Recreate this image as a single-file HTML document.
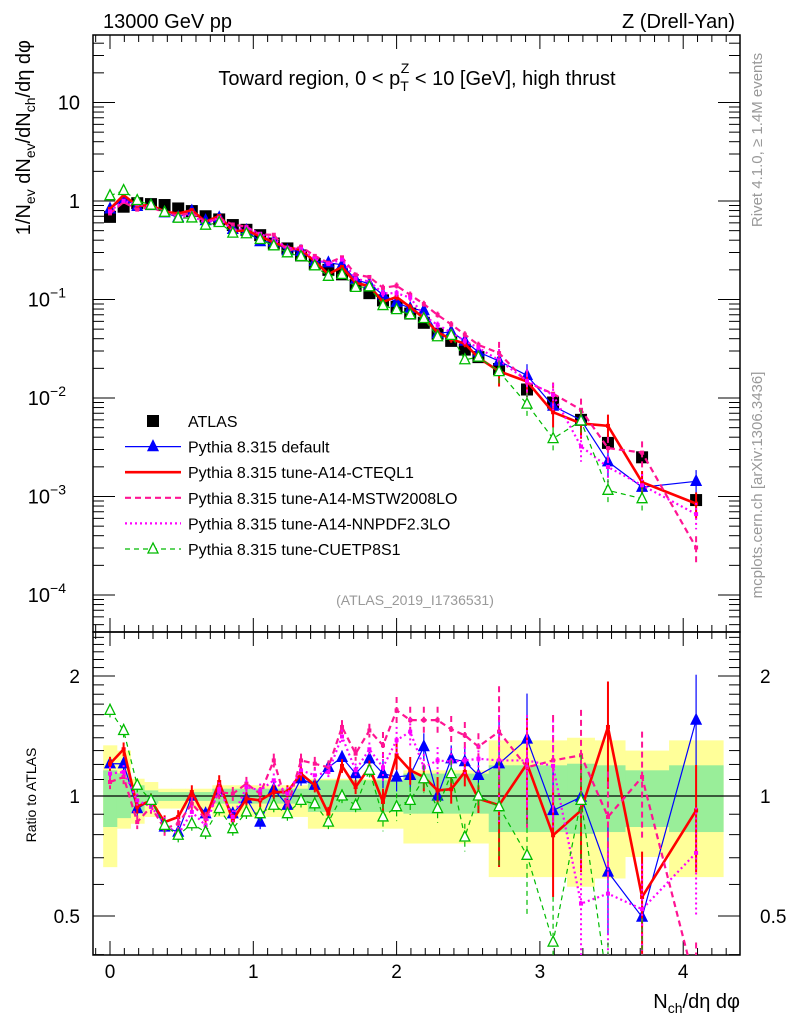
<!DOCTYPE html>
<html><head><meta charset="utf-8"><style>
html,body{margin:0;padding:0;background:#fff;}
svg{display:block;font-family:"Liberation Sans",sans-serif;}
</style></head><body>
<svg id="chart" width="786" height="1024" viewBox="0 0 786 1024" xmlns="http://www.w3.org/2000/svg">
<defs>
<clipPath id="clipM"><rect x="93" y="35" width="647" height="597"/></clipPath>
<clipPath id="clipR"><rect x="93" y="632" width="647" height="323"/></clipPath>
</defs>
<g id="bands" clip-path="url(#clipR)"></g>
<g id="axes"></g>
<g id="mainMarks" clip-path="url(#clipM)"></g>
<g id="ratioMarks" clip-path="url(#clipR)"></g>
<g id="texts">
<text x="103" y="28" font-size="20">13000 GeV pp</text>
<text x="735" y="28" font-size="20" text-anchor="end">Z (Drell-Yan)</text>
<text x="417" y="85" font-size="20" text-anchor="middle">Toward region, 0 &lt; p<tspan font-size="14" dy="6">T</tspan><tspan font-size="14" dx="-8" dy="-18">Z</tspan><tspan dy="12"> &lt; 10 [GeV], high thrust</tspan></text>
<text x="415" y="605" font-size="14" fill="#999" text-anchor="middle">(ATLAS_2019_I1736531)</text>
<text transform="translate(762,140) rotate(-90)" font-size="15" fill="#999" text-anchor="middle">Rivet 4.1.0, ≥ 1.4M events</text>
<text transform="translate(762,485) rotate(-90)" font-size="15" fill="#999" text-anchor="middle">mcplots.cern.ch [arXiv:1306.3436]</text>
<text transform="translate(30,40) rotate(-90)" font-size="20" text-anchor="end">1/N<tspan font-size="14" dy="5">ev</tspan><tspan dy="-5"> dN</tspan><tspan font-size="14" dy="5">ev</tspan><tspan dy="-5">/dN</tspan><tspan font-size="14" dy="5">ch</tspan><tspan dy="-5">/dη dφ</tspan></text>
<text transform="translate(36,795) rotate(-90)" font-size="14" text-anchor="middle">Ratio to ATLAS</text>
<text x="740" y="1008" font-size="20" text-anchor="end">N<tspan font-size="14" dy="5">ch</tspan><tspan dy="-5">/dη dφ</tspan></text>
</g>
<g id="legend"></g>
</svg>
<script>
const xs=[0,0.095,0.19,0.286,0.381,0.476,0.571,0.667,0.762,0.857,0.952,1.048,1.143,1.238,1.333,1.429,1.524,1.619,1.714,1.81,1.905,2.0,2.095,2.19,2.286,2.381,2.476,2.571,2.715,2.91,3.092,3.287,3.475,3.713,4.09];
const atlas=[0.69,0.875,0.95,0.93,0.91,0.84,0.79,0.70,0.65,0.57,0.51,0.45,0.37,0.33,0.28,0.23,0.20,0.18,0.14,0.116,0.098,0.084,0.072,0.058,0.045,0.038,0.031,0.026,0.0197,0.0122,0.0090,0.0060,0.0035,0.0025,0.00092];
const rDefault=[1.205,1.205,0.93,0.975,0.836,0.812,1.0,0.903,1.04,0.903,0.985,0.86,1.04,0.948,1.105,1.064,1.18,1.25,1.138,1.24,1.138,1.116,1.127,1.33,1.0,1.24,1.22,1.127,1.205,1.39,0.92,0.994,0.645,0.497,1.55];
const rCTEQ=[1.205,1.31,0.94,0.975,0.86,0.886,1.023,0.877,1.084,0.869,0.985,0.975,1.023,1.023,1.138,1.064,0.903,1.19,1.053,1.18,0.966,1.265,1.16,1.116,1.033,1.04,1.149,0.985,0.948,1.205,0.797,0.92,1.49,0.558,0.92];
const rMSTW=[1.084,1.116,0.86,0.94,0.828,0.852,0.956,0.877,1.023,1.013,1.074,1.013,1.228,0.94,1.228,1.205,1.18,1.49,1.277,1.46,1.34,1.64,1.55,1.55,1.55,1.47,1.42,1.33,1.45,1.18,1.228,1.265,0.886,1.116,0.33];
const rNNPDF=[1.138,1.149,0.975,0.94,0.852,0.80,0.912,0.844,1.04,0.886,1.053,1.033,1.095,1.013,1.16,1.127,1.149,1.41,1.16,1.31,1.18,1.38,1.45,1.18,1.228,1.22,1.228,1.24,1.228,1.228,1.19,0.537,0.569,0.52,0.72];
const rCUETP=[1.64,1.46,1.064,0.975,0.844,0.797,0.852,0.812,0.93,0.828,0.912,0.903,0.948,0.903,0.975,0.956,0.86,1.0,0.948,1.16,0.886,0.94,0.975,1.105,0.93,1.138,0.789,1.0,0.94,0.71,0.43,0.975,0.33,0.38,null];
const yellowHi=[1.34,1.30,1.105,1.084,1.043,1.043,1.043,1.043,1.064,1.064,1.064,1.064,1.064,1.064,1.064,1.105,1.105,1.105,1.105,1.105,1.105,1.105,1.16,1.16,1.16,1.16,1.16,1.16,1.379,1.379,1.379,1.40,1.379,1.30,1.379];
const yellowLo=[0.663,0.828,0.852,0.886,0.93,0.93,0.93,0.93,0.886,0.886,0.886,0.886,0.886,0.886,0.886,0.828,0.828,0.828,0.828,0.828,0.828,0.828,0.76,0.76,0.76,0.76,0.76,0.76,0.626,0.626,0.626,0.592,0.621,0.703,0.626];
const greenHi=[1.16,1.14,1.064,1.033,1.023,1.023,1.023,1.023,1.043,1.043,1.043,1.043,1.043,1.043,1.043,1.095,1.095,1.095,1.095,1.095,1.095,1.095,1.138,1.138,1.138,1.138,1.138,1.138,1.194,1.194,1.194,1.205,1.194,1.16,1.194];
const greenLo=[0.836,0.88,0.912,0.957,0.972,0.972,0.972,0.972,0.957,0.957,0.957,0.957,0.957,0.957,0.957,0.912,0.912,0.912,0.912,0.912,0.912,0.912,0.903,0.903,0.903,0.903,0.903,0.903,0.812,0.812,0.812,0.804,0.812,0.836,0.812];
const xTicks=[0,1,2,3,4];
const mainTicks=[10,1,0.1,0.01,0.001,0.0001];
const mainTickLabels=["10","1","10","10","10","10"];
const mainTickExp=["","","−1","−2","−3","−4"];
const ratioTicks=[2,1,0.5];
const ratioTickLabels=["2","1","0.5"];

const NS="http://www.w3.org/2000/svg";
const X0=110, XS=143.3;
const L=93,R=740,MT=35,MB=632,RB=955;
function xp(v){return X0+XS*v;}
function ym(v){return 201-98.5*Math.log10(v);}
function yr(v){return 796-120*Math.log2(v);}
function el(tag,attrs,parent){const e=document.createElementNS(NS,tag);for(const k in attrs)e.setAttribute(k,attrs[k]);parent.appendChild(e);return e;}
const axes=document.getElementById('axes');
const mainG=document.getElementById('mainMarks');
const ratG=document.getElementById('ratioMarks');
const bandG=document.getElementById('bands');
const leg=document.getElementById('legend');

function edges(i){const lo=i==0?xs[0]-(xs[1]-xs[0])/2:(xs[i-1]+xs[i])/2;const hi=i==xs.length-1?xs[i]+(xs[i]-xs[i-1])/2:(xs[i]+xs[i+1])/2;return [lo,hi];}
for(let i=0;i<xs.length;i++){
  const [a,b]=edges(i);
  const y=el('rect',{x:xp(a),y:yr(yellowHi[i]),width:xp(b)-xp(a)+0.5,height:yr(yellowLo[i])-yr(yellowHi[i]),fill:'#ffff99'},bandG);
  
  
}
for(let i=0;i<xs.length;i++){
  const [a,b]=edges(i);
  const g=el('rect',{x:xp(a),y:yr(greenHi[i]),width:xp(b)-xp(a)+0.5,height:yr(greenLo[i])-yr(greenHi[i]),fill:'#99ee99'},bandG);
  
  
}

const f1=el('rect',{x:L,y:MT,width:R-L,height:MB-MT,fill:'none',stroke:'#000','stroke-width':1.5},axes);


const f2=el('rect',{x:L,y:MB,width:R-L,height:RB-MB,fill:'none',stroke:'#000','stroke-width':1.5},axes);


const one=el('line',{x1:L,x2:R,y1:yr(1),y2:yr(1),stroke:'#000','stroke-width':1.2},axes);



for(let v=-0.1;v<=4.4;v+=0.1){
  const vv=Math.round(v*10)/10; if(xp(vv)<L||xp(vv)>R)continue;
  const major=Math.abs(vv-Math.round(vv))<1e-6; const len=major?14:7;
  [[MT,MT+len],[MB,MB-len],[MB,MB+len],[RB,RB-len]].forEach(p=>el('line',{x1:xp(vv),x2:xp(vv),y1:p[0],y2:p[1],stroke:'#000','stroke-width':1},axes));
}
xTicks.forEach(v=>{const t=el('text',{x:xp(v),y:978,'font-size':19,'text-anchor':'middle'},axes);t.textContent=String(v);

});
for(let d=-5;d<=1;d++){for(let m=1;m<10;m++){const v=m*Math.pow(10,d);const y=ym(v);if(y<MT||y>MB)continue;const len=m==1?22:11;
 el('line',{x1:L,x2:L+len,y1:y,y2:y,stroke:'#000','stroke-width':1},axes);el('line',{x1:R,x2:R-len,y1:y,y2:y,stroke:'#000','stroke-width':1},axes);}}
mainTicks.forEach((v,i)=>{const t=el('text',{x:mainTickExp[i]?66:80,y:ym(v)+7,'font-size':20,'text-anchor':'end'},axes);t.textContent=mainTickLabels[i];
 if(mainTickExp[i]){const s=el('tspan',{'font-size':14,dy:-9},t);s.textContent=mainTickExp[i];}
 
 });
for(let v=0.4;v<=2.6;v+=0.1){const vv=Math.round(v*10)/10;const y=yr(vv);if(y<MB||y>RB)continue;const major=(vv==0.5||vv==1||vv==2);const len=major?22:11;
 el('line',{x1:L,x2:L+len,y1:y,y2:y,stroke:'#000','stroke-width':1},axes);el('line',{x1:R,x2:R-len,y1:y,y2:y,stroke:'#000','stroke-width':1},axes);}
ratioTicks.forEach((v,i)=>{[[80,'end'],[760,'start']].forEach(p=>{const t=el('text',{x:p[0],y:yr(v)+7,'font-size':19,'text-anchor':p[1]},axes);t.textContent=ratioTickLabels[i];
 
 });});

const series=[
 {name:'pythia-default',r:rDefault,color:'#0000ff',w:1.2,dash:'',marker:'tri-filled'},
 {name:'pythia-a14-cteql1',r:rCTEQ,color:'#ff0000',w:2.6,dash:'',marker:'dot'},
 {name:'pythia-a14-mstw2008lo',r:rMSTW,color:'#ff1493',w:2.2,dash:'6,4',marker:'dot'},
 {name:'pythia-a14-nnpdf23lo',r:rNNPDF,color:'#ff00ff',w:2.2,dash:'2,3',marker:'dot'},
 {name:'pythia-cuetp8s1',r:rCUETP,color:'#00bb00',w:1.2,dash:'5,4',marker:'tri-open'}
];
function tri(g,x,y,c,filled,nm){const p=el('polygon',{points:`${x},${y-6} ${x-5},${y+4} ${x+5},${y+4}`,fill:filled?c:'#fff',stroke:c,'stroke-width':1.3},g);}
function drawSeries(g,s,fy,isRatio){
  let pts=[];const segs=[];
  s.r.forEach((r,i)=>{if(r==null){if(pts.length)segs.push(pts);pts=[];return;}const v=isRatio?r:atlas[i]*r;pts.push([xp(xs[i]),fy(v),v,i]);});
  if(pts.length)segs.push(pts);
  segs.forEach(sg=>{const pl=el('polyline',{points:sg.map(p=>p[0]+','+p[1]).join(' '),fill:'none',stroke:s.color,'stroke-width':s.w,'stroke-dasharray':s.dash},g);
    
    
    sg.forEach(p=>{const i=p[3];const rel=i<20?0.04:(i<28?0.08:0.3);
      const e1=el('line',{x1:p[0],x2:p[0],y1:fy(p[2]*(1+rel)),y2:fy(Math.max(p[2]*(1-rel),1e-9)),stroke:s.color,'stroke-width':s.w>2?2:1.2,'stroke-dasharray':s.dash},g);
      
      
      if(s.marker=='dot'){const c=el('rect',{x:p[0]-2,y:p[1]-2,width:4,height:4,fill:s.color},g);}
      else tri(g,p[0],p[1],s.color,s.marker=='tri-filled',s.name+'-point');});
  });
}
atlas.forEach((v,i)=>{const x=xp(xs[i]),y=ym(v);const q=el('rect',{x:x-6,y:y-6,width:12,height:12,fill:'#000'},mainG);
 
 });
series.forEach(s=>{drawSeries(mainG,s,ym,false);drawSeries(ratG,s,yr,true);});

const labels=['ATLAS','Pythia 8.315 default','Pythia 8.315 tune-A14-CTEQL1','Pythia 8.315 tune-A14-MSTW2008LO','Pythia 8.315 tune-A14-NNPDF2.3LO','Pythia 8.315 tune-CUETP8S1'];
labels.forEach((lb,i)=>{const y=421+i*25.6;const g=el('g',{},leg);
 
 
 if(i==0){el('rect',{x:147,y:y-6,width:12,height:12,fill:'#000'},g);}
 else{const s=series[i-1];el('line',{x1:125,x2:181,y1:y,y2:y,stroke:s.color,'stroke-width':s.w,'stroke-dasharray':s.dash},g);
  if(s.marker!='dot')tri(g,153,y,s.color,s.marker=='tri-filled','legend-marker');}
 const t=el('text',{x:188,y:y+6,'font-size':16},g);t.textContent=lb;});
</script>
</body></html>
